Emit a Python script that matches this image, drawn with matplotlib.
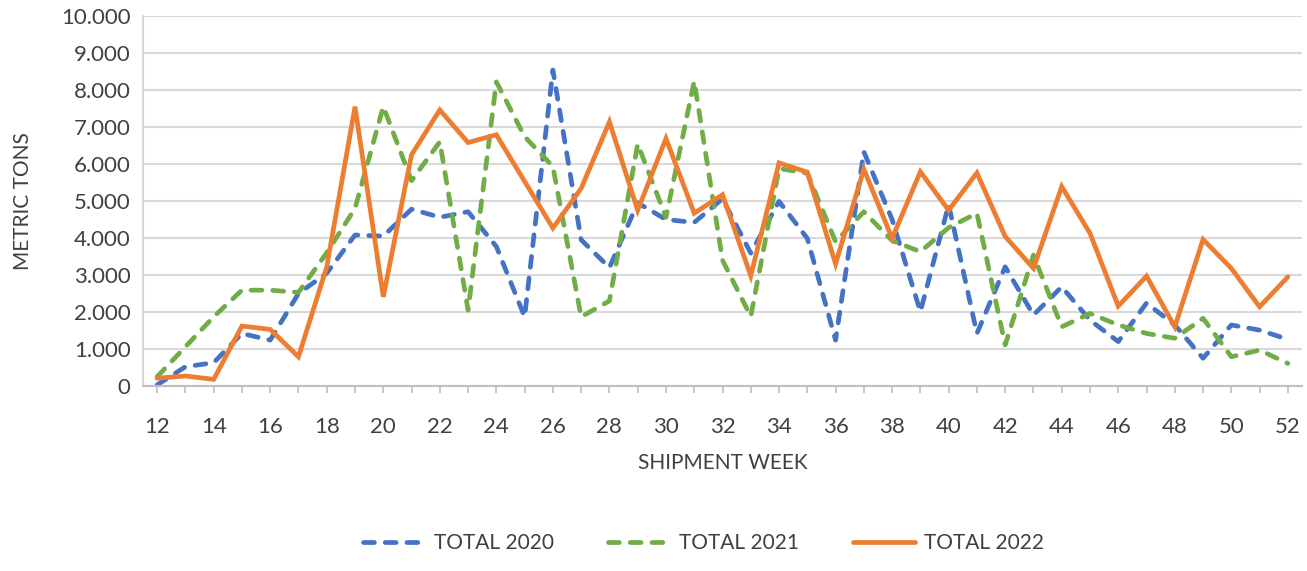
import matplotlib.pyplot as plt
from matplotlib.ticker import FuncFormatter

plt.rcParams['font.family'] = ['Lato', 'DejaVu Sans']

weeks = list(range(12, 53))

total_2020 = [30, 520, 630, 1420, 1240, 2500, 3050, 4080, 4050, 4780, 4560,
              4710, 3770, 1870, 8540, 3950, 3200, 4950, 4500, 4420, 5060, 3590,
              4990, 3990, 1240, 6330, 4500, 2010, 4900, 1420, 3220, 1920, 2680,
              1780, 1200, 2240, 1650, 750, 1650, 1510, 1260]

total_2021 = [250, 1060, 1870, 2590, 2590, 2530, 3600, 4800, 7550, 5550, 6600,
              2050, 8220, 6740, 5930, 1870, 2300, 6540, 4560, 8240, 3400, 1880,
              5880, 5750, 3900, 4710, 3930, 3630, 4280, 4670, 1110, 3540, 1600,
              1960, 1650, 1420, 1290, 1830, 790, 970, 610]

total_2022 = [210, 270, 180, 1620, 1530, 790, 3220, 7550, 2410, 6250, 7460,
              6580, 6790, 5530, 4270, 5340, 7140, 4750, 6690, 4670, 5170, 2980,
              6030, 5780, 3300, 5860, 3990, 5790, 4750, 5760, 4040, 3180, 5390,
              4130, 2160, 2970, 1600, 3960, 3180, 2140, 2950]

series = [("TOTAL 2020", total_2020, "#4472C4", "dash"),
          ("TOTAL 2021", total_2021, "#70AD47", "dash"),
          ("TOTAL 2022", total_2022, "#ED7D31", "solid")]

text_color = "#404040"
grid_color = "#D9D9D9"

fig = plt.figure(figsize=(13.07, 5.71), dpi=100)
ax = fig.add_axes([143 / 1307, 1 - 386 / 571, (1302 - 143) / 1307, (386 - 16) / 571])

for label, vals, color, style in series:
    if style == "dash":
        ax.plot(weeks, vals, color=color, lw=3.4, linestyle=(0, (2.3, 2.3)),
                dash_capstyle="round", solid_joinstyle="round", label=label)
    else:
        ax.plot(weeks, vals, color=color, lw=3.4, solid_capstyle="round",
                solid_joinstyle="miter", label=label)

ax.set_xlim(11.5, 52.5)
ax.set_ylim(0, 10000)
ax.set_yticks(range(0, 10001, 1000))
ax.yaxis.set_major_formatter(FuncFormatter(lambda v, p: f"{int(v):,}".replace(",", ".")))
ax.set_xticks(weeks)
ax.set_xticklabels([str(w) if w % 2 == 0 else "" for w in weeks])

ax.grid(axis="y", color=grid_color, lw=1.5)
ax.set_axisbelow(True)
for side in ["top", "right"]:
    ax.spines[side].set_visible(False)
ax.spines["left"].set_color(grid_color)
ax.spines["left"].set_linewidth(1.5)
ax.spines["bottom"].set_color("#BFBFBF")
ax.spines["bottom"].set_linewidth(1.5)

ax.tick_params(axis="y", length=0, pad=9, labelsize=16, labelcolor=text_color)
ax.tick_params(axis="x", length=5, width=1.2, color="#BFBFBF", pad=17,
               labelsize=16, labelcolor=text_color)

ax.set_xlabel("SHIPMENT WEEK", fontsize=15, color=text_color, labelpad=12)
ax.set_ylabel("METRIC TONS", fontsize=15, color=text_color, labelpad=20)

fig.legend(loc="center", bbox_to_anchor=(0.538, 1 - 543 / 571), ncol=3,
           frameon=False, fontsize=15, handlelength=3.0, columnspacing=2.6,
           handletextpad=0.4, labelcolor=text_color)

fig.savefig("out.png", dpi=100)
